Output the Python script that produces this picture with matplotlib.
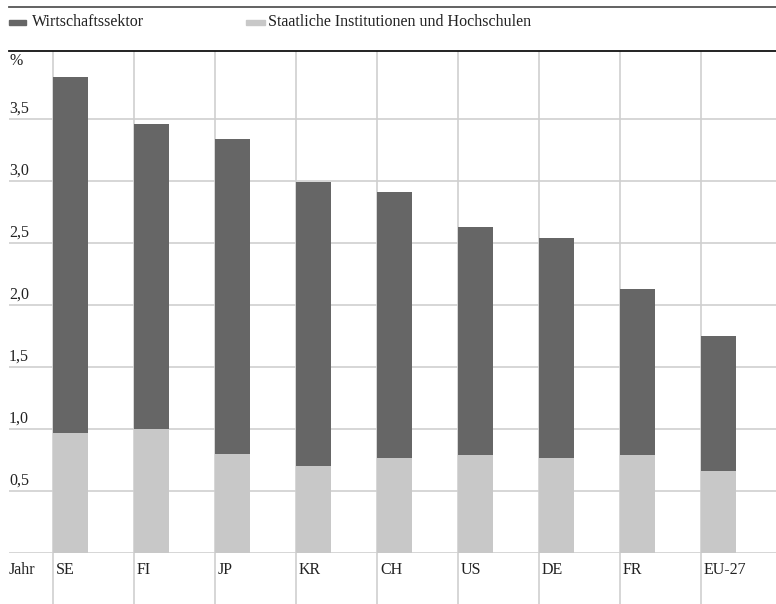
import matplotlib.pyplot as plt
import numpy as np

plt.rcParams['font.family'] = ['Liberation Serif', 'DejaVu Serif']

laender = ["SE", "FI", "JP", "KR", "CH", "US", "DE", "FR", "EU-27"]
gesamt = [3.84, 3.46, 3.34, 2.99, 2.91, 2.63, 2.54, 2.13, 1.75]
staat = [0.97, 1.00, 0.80, 0.70, 0.77, 0.79, 0.77, 0.79, 0.66]
wirtschaft = [g - s for g, s in zip(gesamt, staat)]
yticks = [0.5, 1.0, 1.5, 2.0, 2.5, 3.0, 3.5]

dunkel = '#666666'
hell = '#c8c8c8'
linie = '#cfcfcf'
fs = 11.5

W, H = 776, 604
fig = plt.figure(figsize=(W / 100, H / 100), dpi=100)

# Achsenbereich in Pixeln: links 9, rechts 776, oben 51, unten 553
ax = fig.add_axes([9 / W, 1 - 553 / H, (776 - 9) / W, (553 - 51) / H])
spalte = 81
proeinheit = 124  # Pixel je 1,0 Prozentpunkt
x0 = (9 - 53) / spalte
x1 = (776 - 53) / spalte
ymax = (553 - 51) / proeinheit
ax.set_xlim(x0, x1)
ax.set_ylim(0, ymax)
ax.axis('off')

x = np.arange(len(laender))
breite = 35 / spalte

for t in yticks:
    ax.axhline(t, color=linie, lw=1.2, zorder=1)
    ax.text(x0, t + 0.02, f"{t:.1f}".replace('.', ','), ha='left', va='bottom',
            fontsize=fs, color='#222222')
ax.axhline(0, color=linie, lw=1.2, zorder=1)

# senkrechte Linien bis zum unteren Rand
yunten = (553 - 604) / proeinheit
ax.vlines(x, yunten, ymax, color=linie, lw=1.2, zorder=1, clip_on=False)

ax.bar(x, staat, width=breite, align='edge', color=hell, zorder=2)
ax.bar(x, wirtschaft, bottom=staat, width=breite, align='edge', color=dunkel, zorder=2)

ax.text(x0 + 0.01, ymax - 0.02, "%", ha='left', va='top', fontsize=fs, color='#222222')

ylab = (553 - 570) / proeinheit
ax.text(x0, ylab, "Jahr", ha='left', va='center', fontsize=fs, color='#222222', clip_on=False)
for xi, land in zip(x, laender):
    ax.text(xi + 3 / spalte, ylab, land, ha='left', va='center', fontsize=fs,
            color='#222222', clip_on=False)

# Linien oben
fig.add_artist(plt.Line2D([9 / W, 1], [1 - 51 / H, 1 - 51 / H], color='#111111', lw=1.3))
fig.add_artist(plt.Line2D([9 / W, 1], [1 - 7 / H, 1 - 7 / H], color='#555555', lw=1.3))

# Legende
fig.add_artist(plt.Rectangle((9 / W, 1 - 25 / H), 17 / W, 5 / H, color=dunkel))
fig.text(32 / W, 1 - 22.5 / H, "Wirtschaftssektor", ha='left', va='center',
         fontsize=fs, color='#222222')
fig.add_artist(plt.Rectangle((246 / W, 1 - 25 / H), 19 / W, 5 / H, color=hell))
fig.text(268 / W, 1 - 22.5 / H, "Staatliche Institutionen und Hochschulen", ha='left',
         va='center', fontsize=fs, color='#222222')

fig.savefig('out.png', dpi=100)
